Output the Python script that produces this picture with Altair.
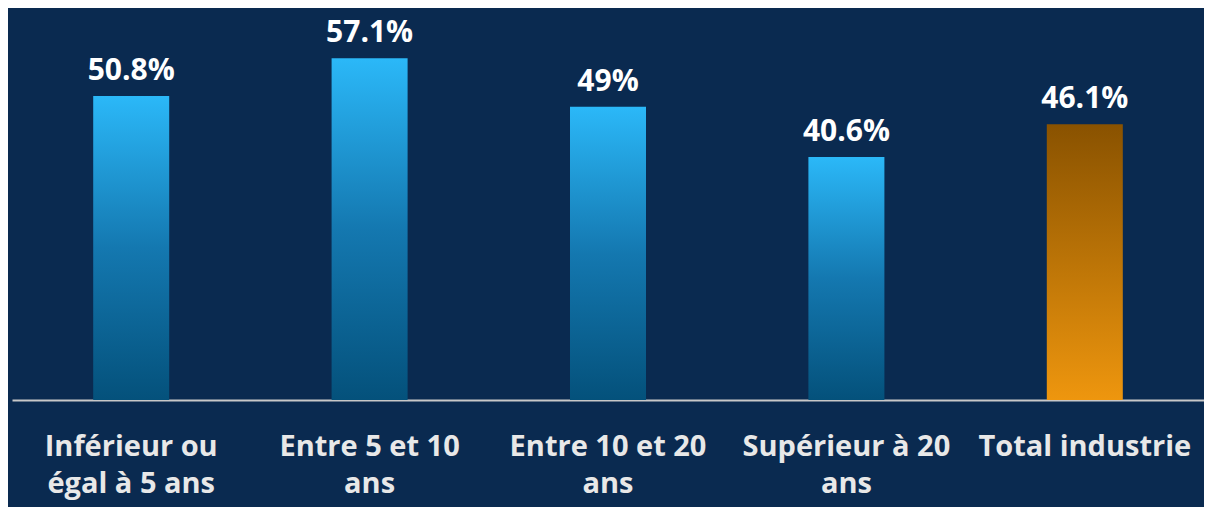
import altair as alt
import pandas as pd

categories = [
    "Inférieur ou\négal à 5 ans",
    "Entre 5 et 10\nans",
    "Entre 10 et 20\nans",
    "Supérieur à 20\nans",
    "Total industrie",
]
values = [50.8, 57.1, 49, 40.6, 46.1]
kinds = ["tranche", "tranche", "tranche", "tranche", "total"]

df = pd.DataFrame({"cat": categories, "value": values, "kind": kinds})

blue_grad = {
    "gradient": "linear", "x1": 0, "y1": 0, "x2": 0, "y2": 1,
    "stops": [{"offset": 0, "color": "#2bb8f8"}, {"offset": 0.5, "color": "#1478b0"},
              {"offset": 1, "color": "#04517b"}],
}
orange_grad = {
    "gradient": "linear", "x1": 0, "y1": 0, "x2": 0, "y2": 1,
    "stops": [{"offset": 0, "color": "#895200"}, {"offset": 1, "color": "#ee960e"}],
}

x_enc = alt.X(
    "cat:N", sort=categories, title=None,
    scale=alt.Scale(paddingInner=0, paddingOuter=0),
    axis=alt.Axis(
        labelExpr="split(datum.label, '\\n')", labelAngle=0, labelFont="Open Sans",
        labelFontSize=29, labelFontWeight="bold", labelColor="#e8e8e8",
        labelLineHeight=37, labelPadding=32, ticks=False, domainColor="#c8c8c8",
        domainWidth=2, grid=False, labelBaseline="top", labelLimit=0,
    ),
)
y_enc = alt.Y("value:Q", scale=alt.Scale(domain=[0, 60], nice=False, zero=True), axis=None)

base = alt.Chart(df).encode(x=x_enc, y=y_enc)

bars_blue = base.transform_filter("datum.kind == 'tranche'").mark_bar(size=76, color=blue_grad)
bars_orange = base.transform_filter("datum.kind == 'total'").mark_bar(size=76, color=orange_grad)
labels = base.transform_calculate(lab="toString(datum.value) + '%'").mark_text(
    font="Open Sans", fontSize=30, fontWeight="bold", color="#ffffff",
    baseline="alphabetic", dy=-16,
).encode(text="lab:N")

chart = (
    alt.layer(bars_blue, bars_orange, labels)
    .properties(
        width=1192, height=359, background="#0a2a50",
        padding={"left": 4, "top": 33, "right": 0, "bottom": 107},
        autosize=alt.AutoSizeParams(type="none"),
    )
    .configure_view(stroke=None)
)

chart.save("out.html", embed_options={"renderer": "svg", "actions": False})
